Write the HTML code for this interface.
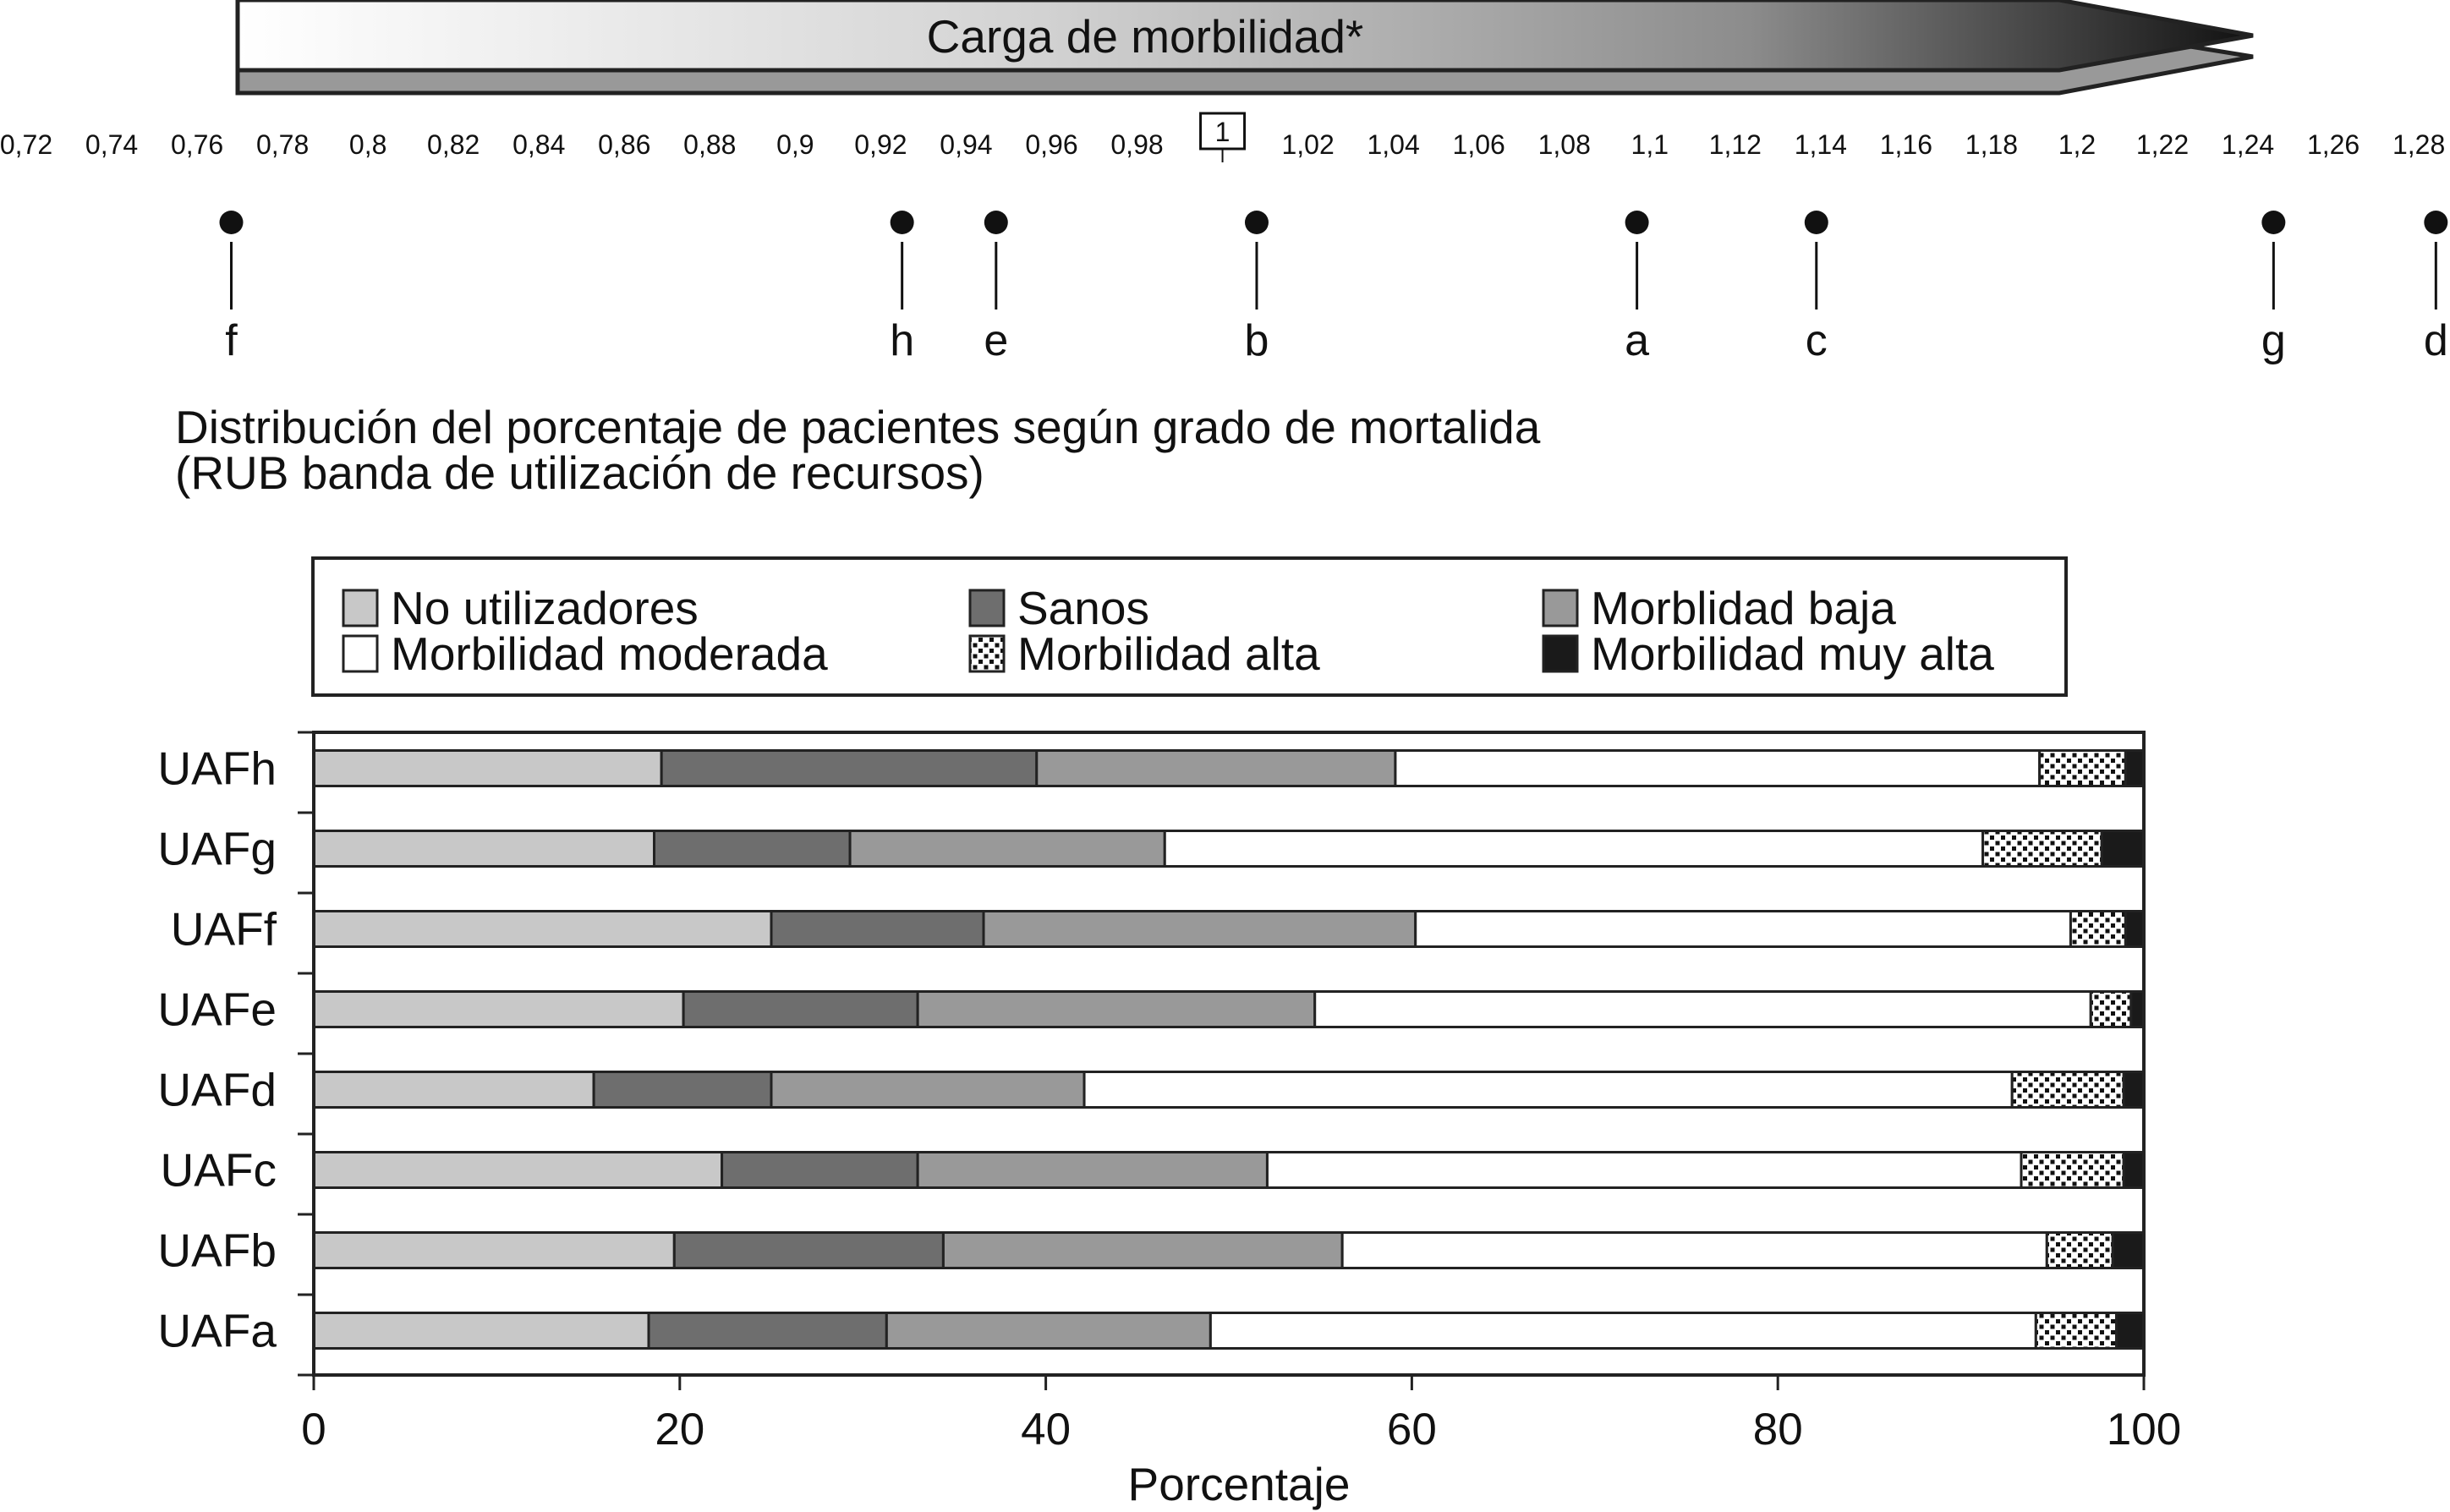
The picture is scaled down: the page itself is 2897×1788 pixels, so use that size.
<!DOCTYPE html>
<html><head><meta charset="utf-8"><style>
html,body{margin:0;padding:0;background:#fff;}
svg{display:block;font-family:"Liberation Sans",sans-serif;}
</style></head><body>
<svg id="c" width="2897" height="1788" viewBox="0 0 2897 1788" xmlns="http://www.w3.org/2000/svg">
<defs>
<linearGradient id="ag" x1="0" x2="1" y1="0" y2="0">
<stop offset="0" stop-color="#ffffff"/><stop offset="0.4" stop-color="#d2d2d2"/><stop offset="0.75" stop-color="#8c8c8c"/><stop offset="1" stop-color="#111"/></linearGradient>
<pattern id="dots" width="13" height="13" patternUnits="userSpaceOnUse">
<rect width="13" height="13" fill="#fff"/><rect x="0" y="0" width="5" height="5" fill="#111"/><rect x="6.5" y="6.5" width="5" height="5" fill="#111"/></pattern>
</defs>
<g>
<polygon points="281,30 2435,30 2664,67 2435,110 281,110" fill="#999" stroke="#222" stroke-width="5"/>
<polygon points="281,0 2435,0 2664,42 2435,83 281,83" fill="url(#ag)" stroke="#222" stroke-width="5"/>
<text x="1354" y="62" font-size="55" text-anchor="middle" fill="#111">Carga de morbilidad*</text>
</g>
<g id="scale"></g>
<text x="207" y="524" font-size="55" fill="#111">Distribución del porcentaje de pacientes según grado de mortalida</text>
<text x="207" y="578" font-size="55" fill="#111">(RUB banda de utilización de recursos)</text>
<g id="legend">
<rect x="370" y="660" width="2073" height="162" fill="#fff" stroke="#222" stroke-width="4"/>
</g>
<g id="plot"></g>
</svg>
<script>
const scaleTicks=[0.72,0.74,0.76,0.78,0.8,0.82,0.84,0.86,0.88,0.9,0.92,0.94,0.96,0.98,1,1.02,1.04,1.06,1.08,1.1,1.12,1.14,1.16,1.18,1.2,1.22,1.24,1.26,1.28];
const unitNames=["f","h","e","b","a","c","g","d"];
const unitValues=[0.768,0.925,0.947,1.008,1.097,1.139,1.246,1.284];
const categories=["UAFh","UAFg","UAFf","UAFe","UAFd","UAFc","UAFb","UAFa"];
const seriesNames=["No utilizadores","Sanos","Morblidad baja","Morbilidad moderada","Morbilidad alta","Morbilidad muy alta"];
const noUtil=[19.0,18.6,25.0,20.2,15.3,22.3,19.7,18.3];
const sanos=[20.5,10.7,11.6,12.8,9.7,10.7,14.7,13.0];
const baja=[19.6,17.2,23.6,21.7,17.1,19.1,21.8,17.7];
const moderada=[35.2,44.7,35.8,42.4,50.7,41.2,38.5,45.1];
const alta=[4.7,6.5,3.0,2.2,6.1,5.6,3.6,4.4];
const muyAlta=[1.0,2.3,1.0,0.7,1.1,1.1,1.7,1.5];
const xTicks=[0,20,40,60,80,100];
const fills=["#c8c8c8","#6e6e6e","#999999","#ffffff","url(#dots)","#1a1a1a"];
const NS="http://www.w3.org/2000/svg";
function mk(tag,attrs,parent,txt){const e=document.createElementNS(NS,tag);for(const k in attrs)e.setAttribute(k,attrs[k]);if(txt!==undefined)e.textContent=txt;parent.appendChild(e);return e;}
const sx=v=>31+(v-0.72)*5052;
const scale=document.getElementById('scale');
scaleTicks.forEach(v=>{
  const lbl=(v===1)?"1":String(v).replace('.',',');
  const t=mk('text',{x:sx(v),y:(v===1)?167:182,'font-size':32,'text-anchor':'middle',fill:'#111'},scale,lbl);
  
  
  if(v===1){const r=mk('rect',{x:sx(v)-26,y:134,width:52,height:42,fill:'none',stroke:'#111','stroke-width':3},scale);
    
    
    mk('line',{x1:sx(v),x2:sx(v),y1:176,y2:192,stroke:'#111','stroke-width':2},scale);}
});
unitValues.forEach((v,i)=>{
  const g=mk('g',{},scale);
  
  
  mk('circle',{cx:sx(v),cy:263,r:14,fill:'#111'},g);
  mk('line',{x1:sx(v),x2:sx(v),y1:286,y2:366,stroke:'#111','stroke-width':3},g);
  mk('text',{x:sx(v),y:420,'font-size':52,'text-anchor':'middle',fill:'#111'},g,unitNames[i]);
});
const leg=document.getElementById('legend');
const lx=[406,1147,1825], ly=[698,752];
seriesNames.forEach((n,i)=>{
  const col=i%3,row=Math.floor(i/3);
  const g=mk('g',{},leg);
  
  
  mk('rect',{x:lx[col],y:ly[row],width:40,height:42,fill:fills[i],stroke:'#222','stroke-width':3},g);
  mk('text',{x:lx[col]+56,y:ly[row]+40,'font-size':55,fill:'#111'},g,n);
});
const plot=document.getElementById('plot');
const X0=371,X1=2535,Y0=866,Y1=1626;
const px=v=>X0+v/100*(X1-X0);
const band=(Y1-Y0)/categories.length;
const series=[noUtil,sanos,baja,moderada,alta,muyAlta];
categories.forEach((c,i)=>{
  const cy=Y0+band*i+band/2-5;
  let acc=0;
  series.forEach((s,k)=>{
    const r=mk('rect',{x:px(acc),y:cy-21,width:px(acc+s[i])-px(acc),height:42,fill:fills[k],stroke:'#222','stroke-width':3},plot);
    
    
    acc+=s[i];
  });
  const t=mk('text',{x:327,y:cy+19,'font-size':55,'text-anchor':'end',fill:'#111'},plot,c);
  
  
});
for(let i=1;i<categories.length;i++){mk('line',{x1:352,x2:X0,y1:Y0+band*i,y2:Y0+band*i,stroke:'#222','stroke-width':3},plot);}
const frame=mk('path',{d:`M${X0},${Y0} H${X1} V${Y1} H${X0} Z`,fill:'none',stroke:'#222','stroke-width':4},plot);


mk('line',{x1:352,x2:X0,y1:Y0,y2:Y0,stroke:'#222','stroke-width':3},plot);
mk('line',{x1:352,x2:X0,y1:Y1,y2:Y1,stroke:'#222','stroke-width':3},plot);
xTicks.forEach(v=>{
  mk('line',{x1:px(v),x2:px(v),y1:Y1,y2:Y1+18,stroke:'#222','stroke-width':3},plot);
  const t=mk('text',{x:px(v),y:1708,'font-size':53,'text-anchor':'middle',fill:'#111'},plot,String(v));
  
  
});
const xt=mk('text',{x:1465,y:1774,'font-size':55,'text-anchor':'middle',fill:'#111'},plot,'Porcentaje');


</script>
</body></html>
